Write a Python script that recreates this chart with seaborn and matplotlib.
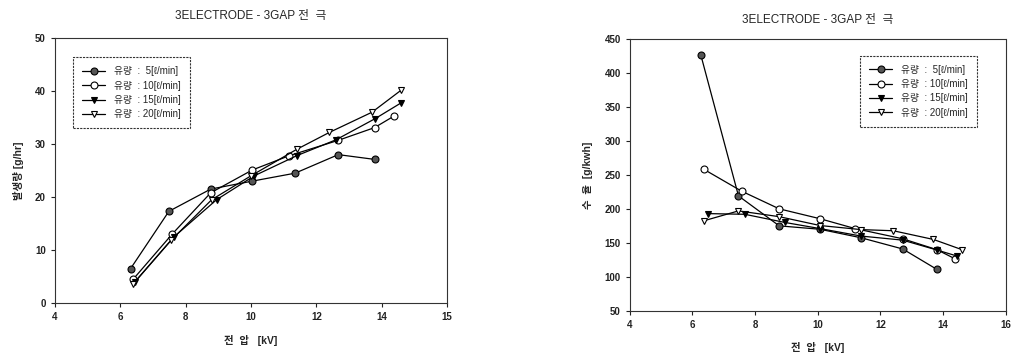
import pandas as pd
import matplotlib
matplotlib.use("Agg")
import matplotlib.pyplot as plt
import seaborn as sns

sns.set_style("ticks")
plt.rcParams['font.family'] = ['Liberation Sans', 'Noto Sans CJK KR', 'DejaVu Sans']

title = "3ELECTRODE - 3GAP 전  극"
labels = ["유량  :  5[ℓ/min]", "유량  : 10[ℓ/min]", "유량  : 15[ℓ/min]", "유량  : 20[ℓ/min]"]

# left chart: production [g/hr]
x5_l = [6.32, 7.49, 8.77, 10.04, 11.35, 12.67, 13.78]
y5_l = [6.5, 17.3, 21.5, 23.0, 24.5, 28.0, 27.1]
x10_l = [6.40, 7.59, 8.77, 10.04, 11.17, 12.67, 13.78, 14.38]
y10_l = [4.5, 13.0, 20.8, 25.1, 27.8, 30.7, 33.1, 35.3]
x15_l = [6.45, 7.65, 8.95, 10.10, 11.40, 12.60, 13.80, 14.60]
y15_l = [4.0, 12.5, 19.5, 24.0, 27.8, 30.8, 34.8, 37.8]
x20_l = [6.40, 7.55, 8.80, 10.00, 11.40, 12.40, 13.70, 14.60]
y20_l = [3.6, 11.8, 19.5, 24.0, 29.0, 32.2, 36.0, 40.2]

# right chart: yield [g/kwh]
x5_r = [6.27, 7.47, 8.77, 10.07, 11.38, 12.71, 13.80]
y5_r = [426, 219, 175, 170, 157.5, 141, 111]
x10_r = [6.37, 7.57, 8.77, 10.07, 11.19, 12.71, 13.80, 14.38]
y10_r = [258, 226, 200, 185.5, 171, 156, 140, 126.5]
x15_r = [6.50, 7.67, 8.95, 10.07, 11.38, 12.71, 13.80, 14.45]
y15_r = [193, 192, 180, 171, 160, 154, 139.5, 130.5]
x20_r = [6.37, 7.47, 8.77, 10.07, 11.38, 12.41, 13.69, 14.60]
y20_r = [182.5, 197, 188.5, 175.5, 169.5, 167.8, 155, 140]

left_ticks = [4, 6, 8, 10, 12, 14, 16]
left_ticklabels = ["4", "6", "8", "10", "12", "14", "15"]
right_ticks = [4, 6, 8, 10, 12, 14, 16]

styles = [("o", "#555555"), ("o", "white"), ("v", "black"), ("v", "white")]

fig = plt.figure(figsize=(10.14, 3.59), dpi=100)
ax1 = fig.add_axes([0.054, 0.156, 0.387, 0.738])
ax2 = fig.add_axes([0.621, 0.134, 0.371, 0.758])

left_series = [(x5_l, y5_l), (x10_l, y10_l), (x15_l, y15_l), (x20_l, y20_l)]
right_series = [(x5_r, y5_r), (x10_r, y10_r), (x15_r, y15_r), (x20_r, y20_r)]

for ax, series in [(ax1, left_series), (ax2, right_series)]:
    for (xs, ys), lab, (mk, fc) in zip(series, labels, styles):
        sns.lineplot(x=xs, y=ys, ax=ax, color="black", lw=0.9, marker=mk,
                     markersize=5, markerfacecolor=fc, markeredgecolor="black",
                     markeredgewidth=0.8, label=lab, sort=False)
    for s in ax.spines.values():
        s.set_linewidth(0.8)
        s.set_color("#333333")
    ax.spines["top"].set_linestyle((0, (2, 1)))
    ax.spines["right"].set_linestyle((0, (2, 1)))
    ax.tick_params(labelsize=7, length=3, width=0.8, direction="out", colors="#222222")
    leg = ax.legend(fontsize=7, frameon=True, fancybox=False, handlelength=2.4,
                    borderpad=0.9, labelspacing=0.45, handletextpad=0.9)
    leg.get_frame().set_edgecolor("black")
    leg.get_frame().set_linewidth(0.8)
    leg.get_frame().set_linestyle((0, (2, 1)))

ax1.set_xlim(4, 16)
ax1.set_ylim(0, 50)
ax1.set_xticks(left_ticks)
ax1.set_xticklabels(left_ticklabels, fontweight="bold")
ax1.set_yticks([0, 10, 20, 30, 40, 50])
ax1.set_yticklabels([0, 10, 20, 30, 40, 50], fontweight="bold")
ax1.set_title(title, fontsize=8.5, pad=14)
ax1.set_xlabel("전  압   [kV]", fontsize=7.5, labelpad=9, fontweight="bold")
ax1.set_ylabel("발생량 [g/hr]", fontsize=7.5, labelpad=8, fontweight="bold")
ax1.legend_.set_bbox_to_anchor((0.035, 0.945))
ax1.legend_._loc = 2

ax2.set_xlim(4, 16)
ax2.set_ylim(50, 450)
ax2.set_xticks(right_ticks)
ax2.set_xticklabels(right_ticks, fontweight="bold")
ax2.set_yticks(range(50, 451, 50))
ax2.set_yticklabels(range(50, 451, 50), fontweight="bold")
ax2.set_title(title, fontsize=8.5, pad=11)
ax2.set_xlabel("전  압   [kV]", fontsize=7.5, labelpad=9, fontweight="bold")
ax2.set_ylabel("수  율  [g/kwh]", fontsize=7.5, labelpad=8, fontweight="bold")
ax2.legend_.set_bbox_to_anchor((0.935, 0.955))
ax2.legend_._loc = 1

fig.savefig("out.png", dpi=100)
